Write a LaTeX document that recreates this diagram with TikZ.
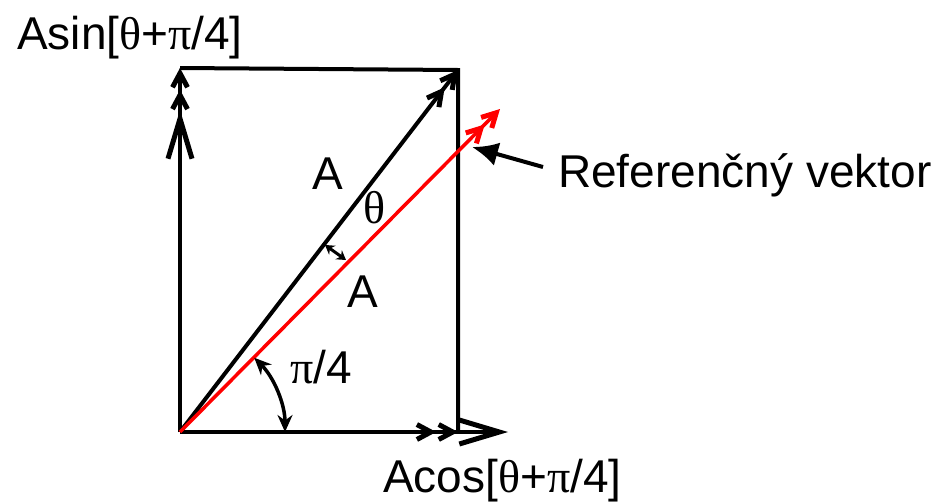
\documentclass[tikz,border=0pt]{standalone}
\usepackage{fontspec}
\setmainfont{Liberation Sans}
\newfontfamily\grk{Liberation Serif}
\usetikzlibrary{arrows.meta}
\begin{document}
\begin{tikzpicture}[x=1pt,y=-1pt,
  lbl/.style={inner sep=0pt,anchor=base west,font=\fontsize{46}{52}\selectfont},
  ln/.style={line width=4pt,line join=miter},
  dbl/.style={-{Straight Barb[length=14pt,width=15pt,line width=5pt]Straight Barb[length=14pt,width=15pt,line width=5pt]}},
  big/.style={-{Straight Barb[length=40pt,width=24pt,line width=5pt]}},
  redvec/.style={line width=3.5pt,red,-{Straight Barb[length=14pt,width=15pt,line width=5pt]Straight Barb[length=14pt,width=15pt,line width=5pt]}},
]
\useasboundingbox (0,0) rectangle (951,501);
% points
\coordinate (O) at (180,432);
\coordinate (P) at (458,70);
\coordinate (TL) at (180,68);
\coordinate (BR) at (458,432);
\coordinate (R) at (500,109);
\coordinate (Xr) at (508,432);
\coordinate (Yr) at (180,110);
\coordinate (reftip) at (472,147);
\coordinate (reftail) at (543,167);
\coordinate (dA) at (325,245);
\coordinate (dB) at (346,260);
% rectangle top and right edges
\draw[ln] (TL) -- (P) -- (BR);
% axes components
\draw[ln,big] (O) -- (Xr);
\draw[ln,big] (O) -- (Yr);
\draw[ln,dbl] (O) -- (BR);
\draw[ln,dbl] (O) -- (TL);
% black vector
\draw[ln,dbl] (O) -- (P);
% red reference vector
\draw[redvec] (O) -- (R);
% theta marker
\draw[line width=3pt,{Stealth[length=9pt,width=11pt]}-{Stealth[length=9pt,width=11pt]}] (dA) -- (dB);
% pi/4 arc
\draw[line width=3.5pt,{Stealth[length=17pt,width=15pt]}-{Stealth[length=17pt,width=15pt]}]
  ([shift={(0:105pt)}]O) arc[start angle=0,end angle=45,radius=105pt];
% reference arrow
\draw[line width=4pt,-{Latex[length=26pt,width=24pt]}] (reftail) -- (reftip);
% labels
\node[lbl] (asin) at (17,49) {Asin[{\grk θ}+{\grk π}/4]};
\node[lbl] (acos) at (383,492) {Acos[{\grk θ}+{\grk π}/4]};
\node[lbl] (ref) at (558,187) {Referenčný vektor};
\node[lbl] (A1) at (312,189) {A};
\node[lbl] (A2) at (347,307) {A};
\node[lbl] (th) at (363,223) {\grk θ};
\node[lbl] (pi4) at (290,383) {{\grk π}/4};
\end{tikzpicture}
\end{document}
